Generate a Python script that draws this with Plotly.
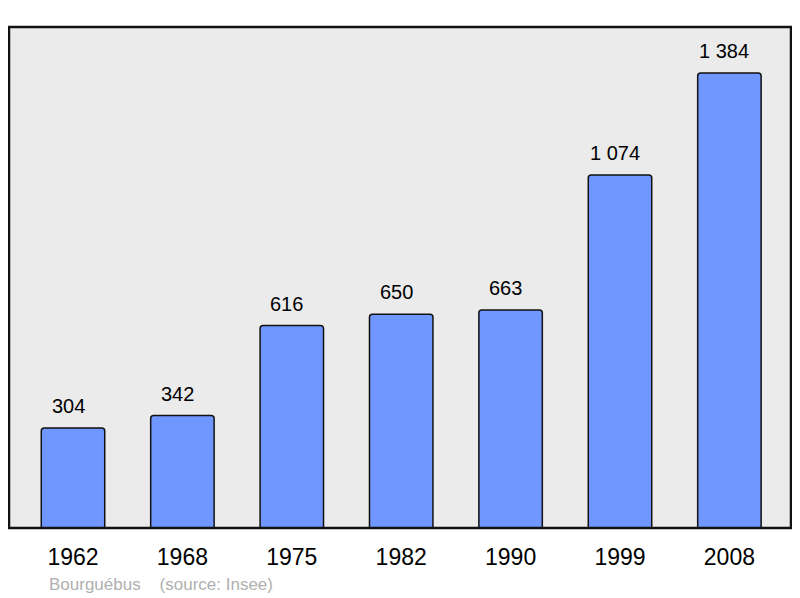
import plotly.graph_objects as go

years = ["1962", "1968", "1975", "1982", "1990", "1999", "2008"]
population = [304, 342, 616, 650, 663, 1074, 1384]
value_labels = ["304", "342", "616", "650", "663", "1 074", "1 384"]
commune = "Bourguébus"
source = "(source: Insee)"

x = list(range(len(years)))
FONT = "Liberation Sans, Arial, sans-serif"

fig = go.Figure()
fig.add_trace(go.Bar(
    x=x, y=population, width=0.58,
    marker=dict(color="#7097ff", line=dict(color="#111111", width=1.5), cornerradius=3),
    hoverinfo="skip",
))

for xi, v, lab in zip(x, population, value_labels):
    fig.add_annotation(x=xi, y=v, text=lab, showarrow=False, yanchor="bottom",
                       yshift=9, xshift=-5, font=dict(size=20, color="#000000", family=FONT))

fig.add_annotation(xref="paper", yref="paper", x=(47-9)/782, y=-(584-528)/501,
                   text=commune + "\u00a0\u00a0\u00a0\u00a0" + source, showarrow=False,
                   xanchor="left", yanchor="middle",
                   font=dict(size=17, color="#b0b0b0", family=FONT))

fig.add_shape(type="rect", xref="paper", yref="paper", x0=0, y0=0, x1=1, y1=1,
              line=dict(color="#111111", width=2.5), fillcolor="rgba(0,0,0,0)", layer="above")

fig.update_layout(
    width=792, height=590,
    margin=dict(l=1, r=9, t=19, b=70),
    paper_bgcolor="#ffffff", plot_bgcolor="#ebebeb",
    showlegend=False,
    font=dict(family=FONT),
    xaxis=dict(range=[-0.585, 6.563], tickvals=x, ticktext=years, showgrid=False,
               zeroline=False, ticks="outside", ticklen=8, tickcolor="rgba(0,0,0,0)",
               tickfont=dict(size=23, color="#000000"), fixedrange=True),
    yaxis=dict(range=[0, 1524], showgrid=False, zeroline=False, showticklabels=False,
               fixedrange=True),
)

fig.write_html("out.html")
